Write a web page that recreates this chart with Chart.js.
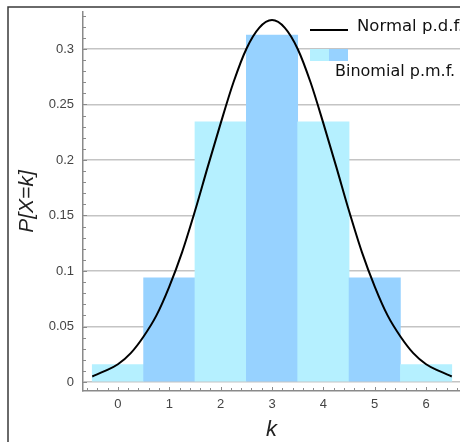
<!DOCTYPE html>
<html lang="en">
<head>
  <meta charset="UTF-8">
  <title>Binomial vs Normal</title>
  <script src="https://cdn.jsdelivr.net/npm/chart.js"></script>
  <style>
    body { margin: 0; background: #fff; }
    #wrap { position: relative; width: 460px; height: 442px; }
  </style>
</head>
<body>
  <div id="wrap"><canvas id="myChart" width="460" height="442"></canvas></div>

  <script>
    // binomial p.m.f. (n = 6)
    const kValues = [0, 1, 2, 3, 4, 5, 6];
    const pmfValues = [0.0156, 0.0938, 0.2344, 0.3125, 0.2344, 0.0938, 0.0156];

    // normal p.d.f.
    const curveX = [-0.5, -0.25, 0, 0.25, 0.5, 0.75, 1, 1.25, 1.5, 1.75, 2, 2.25, 2.5, 2.75, 3,
                    3.25, 3.5, 3.75, 4, 4.25, 4.5, 4.75, 5, 5.25, 5.5, 5.75, 6, 6.25, 6.5];
    const curveY = [0.005, 0.010, 0.016, 0.026, 0.041, 0.060, 0.086, 0.117, 0.154, 0.194, 0.233, 0.270, 0.300, 0.319, 0.326,
                    0.319, 0.300, 0.270, 0.233, 0.194, 0.154, 0.117, 0.086, 0.060, 0.041, 0.026, 0.016, 0.010, 0.005];

    const xTicks = [0, 1, 2, 3, 4, 5, 6];
    const yTicks = [0, 0.05, 0.1, 0.15, 0.2, 0.25, 0.3];

    const lightCyan = '#b5f0ff';
    const lightBlue = '#97d2ff';

    const ctx = document.getElementById('myChart').getContext('2d');

    // frame, inner tick marks and the hand-made legend
    const extras = {
      id: 'extras',
      beforeDraw(chart) {
        const c = chart.ctx;
        c.save();
        c.strokeStyle = '#3a3a3a';
        c.lineWidth = 1.5;
        c.beginPath();
        c.moveTo(8, 442);
        c.lineTo(8, 7);
        c.lineTo(460, 7);
        c.stroke();
        c.restore();
      },
      afterDraw(chart) {
        const c = chart.ctx;
        const xs = chart.scales.x, ys = chart.scales.y;
        const area = chart.chartArea;
        c.save();
        c.strokeStyle = '#8a8a8a';
        c.lineWidth = 1;
        c.beginPath();
        // minor ticks every 0.01 on y, pointing inward
        for (let i = 0; i <= 33; i++) {
          const py = Math.round(ys.getPixelForValue(i / 100)) + 0.5;
          const len = i % 5 === 0 ? 4 : 3;
          c.moveTo(area.left, py);
          c.lineTo(area.left + len, py);
        }
        // minor ticks every 0.2 on x, pointing up
        for (let i = -3; i <= 33; i++) {
          const px = Math.round(xs.getPixelForValue(i / 5)) + 0.5;
          const len = i % 5 === 0 ? 4 : 3;
          c.moveTo(px, area.bottom);
          c.lineTo(px, area.bottom - len);
        }
        c.stroke();

        // legend
        const ds = chart.data.datasets;
        c.strokeStyle = '#000';
        c.lineWidth = 2;
        c.beginPath();
        c.moveTo(310, 30);
        c.lineTo(348, 30);
        c.stroke();
        c.fillStyle = lightCyan;
        c.fillRect(310, 49, 19, 12);
        c.fillStyle = lightBlue;
        c.fillRect(329, 49, 19, 12);
        c.fillStyle = '#111';
        c.font = '16.5px "DejaVu Sans"';
        c.textBaseline = 'middle';
        c.textAlign = 'left';
        c.fillText(ds[0].label, 357, 27);
        c.font = '16px "DejaVu Sans"';
        c.fillText(ds[1].label, 335, 72);
        c.restore();
      }
    };

    const myChart = new Chart(ctx, {
      type: 'bar',
      data: {
        datasets: [{
          type: 'line',
          label: 'Normal p.d.f.',
          data: curveX.map((x, i) => ({ x: x, y: curveY[i] })),
          borderColor: '#000',
          borderWidth: 2,
          pointRadius: 0,
          cubicInterpolationMode: 'monotone',
          fill: false,
          order: 0
        }, {
          label: 'Binomial p.m.f.',
          data: kValues.map((k, i) => ({ x: k, y: pmfValues[i] })),
          backgroundColor: kValues.map(k => k % 2 === 0 ? lightCyan : lightBlue),
          borderWidth: 0,
          barPercentage: 1,
          categoryPercentage: 1,
          order: 1
        }]
      },
      options: {
        responsive: false,
        animation: false,
        layout: { padding: { top: 12, right: 0, left: 0, bottom: 0 } },
        plugins: {
          legend: { display: false },
          tooltip: { enabled: false }
        },
        scales: {
          x: {
            type: 'linear',
            offset: false,
            min: -0.68,
            max: 6.66,
            afterFit: s => { s.height = 51; s.paddingLeft = 0; s.paddingRight = 0; },
            afterBuildTicks: s => { s.ticks = xTicks.map(v => ({ value: v })); },
            grid: { display: false, offset: false, drawTicks: false },
            border: { display: true, color: '#8a8a8a', width: 1.5 },
            ticks: {
              color: '#444',
              padding: 6,
              font: { family: '"Liberation Sans"', size: 13 },
              maxRotation: 0
            },
            title: {
              display: true,
              text: 'k',
              color: '#222',
              font: { family: '"Liberation Sans"', size: 22, style: 'italic' },
              padding: { top: 0, bottom: -1 }
            }
          },
          y: {
            min: -0.0081,
            max: 0.3333,
            afterFit: s => { s.width = 83; s.paddingTop = 0; s.paddingBottom = 0; },
            afterBuildTicks: s => { s.ticks = yTicks.map(v => ({ value: v })); },
            grid: { color: '#c4c4c4', lineWidth: 1.5, drawTicks: false },
            border: { display: true, color: '#8a8a8a', width: 1.5 },
            ticks: {
              color: '#444',
              padding: 9,
              font: { family: '"Liberation Sans"', size: 13 },
              callback: v => String(+v.toFixed(2))
            },
            title: {
              display: true,
              text: 'P[X=k]',
              color: '#222',
              font: { family: '"Liberation Sans"', size: 21, style: 'italic' },
              padding: { top: 15, bottom: 0 }
            }
          }
        }
      },
      plugins: [extras]
    });
  </script>
</body>
</html>
